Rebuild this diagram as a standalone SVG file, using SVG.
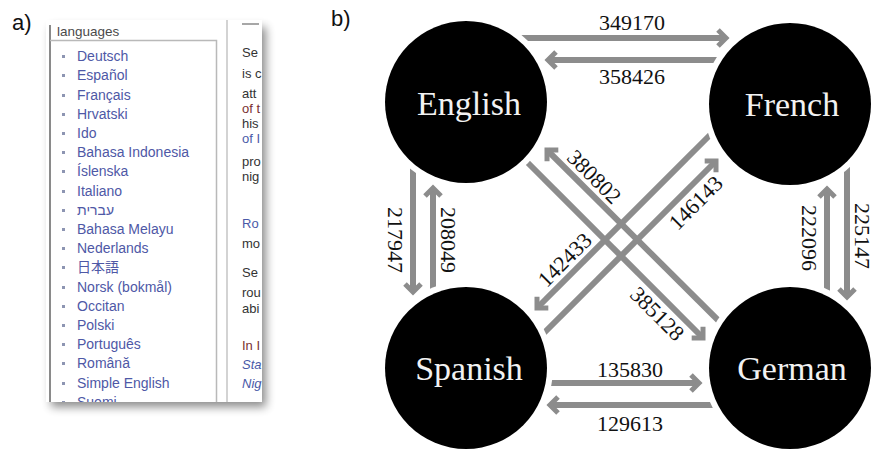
<svg xmlns="http://www.w3.org/2000/svg" width="878" height="451" viewBox="0 0 878 451">
  <defs>
    <style>
      .tag { font-family: "Liberation Sans", Arial, sans-serif; font-size: 22px; fill: #111; }
      .li { font-family: "Liberation Sans", Arial, "Noto Sans CJK JP", sans-serif; font-size: 14px; fill: #4e58a6; }
      .bul { fill: #8d95b2; }
      .body { font-family: "Liberation Sans", Arial, sans-serif; font-size: 13px; fill: #333; }
      .red { fill: #7a3030; }
      .blue { fill: #4a5aa8; }
      .it { font-style: italic; }
      .frame { stroke: #b9b9b9; stroke-width: 1.5; fill: none; }
      .wire { stroke: #8c8c8c; stroke-width: 6; fill: none; marker-end: url(#ah); }
      .node .halo { fill: #fff; }
      .node .disc { fill: #000; }
      .node text { font-family: "Liberation Serif", "Times New Roman", serif; font-size: 34px; fill: #f2f2f2; text-anchor: middle; }
      .num { font-family: "Liberation Serif", "Times New Roman", serif; font-size: 22px; fill: #111; text-anchor: middle; }
    </style>
    <marker id="ah" viewBox="-14 -12 20 24" refX="0" refY="0" markerWidth="20" markerHeight="24" markerUnits="userSpaceOnUse" orient="auto" overflow="visible">
      <path d="M-8,-8 L0,0 L-8,8" fill="none" stroke="#8c8c8c" stroke-width="5"/>
    </marker>
    <filter id="soft" x="-20%" y="-20%" width="140%" height="140%">
      <feGaussianBlur stdDeviation="5"/>
    </filter>
    <clipPath id="sheet">
      <rect x="46" y="20" width="216" height="382"/>
    </clipPath>
  </defs>

  <rect width="878" height="451" fill="#fff"/>

  <!-- panel labels -->
  <text class="tag" x="12" y="30">a)</text>
  <text class="tag" x="331" y="26">b)</text>

  <!-- a) language sidebar -->
  <g id="sidebar">
    <rect x="51" y="27" width="215" height="380" fill="#000" opacity="0.45" filter="url(#soft)"/>
    <rect x="46" y="20" width="216" height="382" fill="#fff"/>
    <g clip-path="url(#sheet)">
      <line x1="50" y1="25" x2="50" y2="402" stroke="#8a8a8a" stroke-width="2"/>
      <text x="57" y="36" font-family="Liberation Sans, Arial, sans-serif" font-size="13.5" fill="#4a4a4a">languages</text>
      <path class="frame" d="M50,40.5 H216.5 V402"/>
      <line x1="227" y1="20" x2="227" y2="402" stroke="#c4c4c4" stroke-width="1.5"/>
      <line x1="242" y1="24" x2="259" y2="24" stroke="#8a8a8a" stroke-width="1.5"/>

      <g id="lang-list">
        <rect class="bul" x="62" y="55" width="3" height="3"/><text class="li" x="77" y="61">Deutsch</text>
        <rect class="bul" x="62" y="74" width="3" height="3"/><text class="li" x="77" y="80">Español</text>
        <rect class="bul" x="62" y="94" width="3" height="3"/><text class="li" x="77" y="100">Français</text>
        <rect class="bul" x="62" y="113" width="3" height="3"/><text class="li" x="77" y="119">Hrvatski</text>
        <rect class="bul" x="62" y="132" width="3" height="3"/><text class="li" x="77" y="138">Ido</text>
        <rect class="bul" x="62" y="151" width="3" height="3"/><text class="li" x="77" y="157">Bahasa Indonesia</text>
        <rect class="bul" x="62" y="170" width="3" height="3"/><text class="li" x="77" y="176">Íslenska</text>
        <rect class="bul" x="62" y="190" width="3" height="3"/><text class="li" x="77" y="196">Italiano</text>
        <rect class="bul" x="62" y="209" width="3" height="3"/><text class="li" x="77" y="215">עברית</text>
        <rect class="bul" x="62" y="228" width="3" height="3"/><text class="li" x="77" y="234">Bahasa Melayu</text>
        <rect class="bul" x="62" y="247" width="3" height="3"/><text class="li" x="77" y="253">Nederlands</text>
        <rect class="bul" x="62" y="266" width="3" height="3"/><text class="li" x="77" y="272">日本語</text>
        <rect class="bul" x="62" y="286" width="3" height="3"/><text class="li" x="77" y="292">Norsk (bokmål)</text>
        <rect class="bul" x="62" y="305" width="3" height="3"/><text class="li" x="77" y="311">Occitan</text>
        <rect class="bul" x="62" y="324" width="3" height="3"/><text class="li" x="77" y="330">Polski</text>
        <rect class="bul" x="62" y="343" width="3" height="3"/><text class="li" x="77" y="349">Português</text>
        <rect class="bul" x="62" y="362" width="3" height="3"/><text class="li" x="77" y="368">Română</text>
        <rect class="bul" x="62" y="382" width="3" height="3"/><text class="li" x="77" y="388">Simple English</text>
        <rect class="bul" x="62" y="401" width="3" height="3"/><text class="li" x="77" y="407">Suomi</text>
      </g>

      <g id="article-column">
        <text class="body" x="242" y="57">Se</text>
        <text class="body" x="242" y="78">is c</text>
        <text class="body" x="242" y="98">att</text>
        <text class="body red" x="242" y="113">of t</text>
        <text class="body" x="242" y="128">his</text>
        <text class="body blue" x="242" y="143">of I</text>
        <text class="body" x="242" y="166">pro</text>
        <text class="body" x="242" y="181">nig</text>
        <text class="body blue" x="242" y="228">Ro</text>
        <text class="body" x="242" y="248">mo</text>
        <text class="body" x="242" y="277">Se</text>
        <text class="body" x="242" y="297">rou</text>
        <text class="body" x="242" y="313">abi</text>
        <text class="body red" x="242" y="350">In I</text>
        <text class="body blue it" x="242" y="369">Sta</text>
        <text class="body blue it" x="242" y="388">Nig</text>
      </g>
    </g>
  </g>

  <!-- b) link counts between language editions -->
  <g id="connectors">
    <!-- English / French -->
    <line class="wire" x1="500" y1="38" x2="726" y2="38"/>
    <line class="wire" x1="760" y1="60" x2="548" y2="60"/>
    <text class="num" x="632" y="30">349170</text>
    <text class="num" x="632" y="84">358426</text>

    <!-- Spanish / German -->
    <line class="wire" x1="500" y1="383" x2="699" y2="383"/>
    <line class="wire" x1="760" y1="405" x2="550" y2="405"/>
    <text class="num" x="630" y="377">135830</text>
    <text class="num" x="630" y="431">129613</text>

    <!-- English / Spanish -->
    <line class="wire" x1="413" y1="150" x2="413" y2="292"/>
    <line class="wire" x1="433" y1="320" x2="433" y2="188"/>
    <text class="num" transform="translate(388,240) rotate(90)">217947</text>
    <text class="num" transform="translate(441,240) rotate(90)">208049</text>

    <!-- French / German -->
    <line class="wire" x1="827" y1="320" x2="827" y2="189"/>
    <line class="wire" x1="847" y1="150" x2="847" y2="297"/>
    <text class="num" transform="translate(802,238) rotate(90)">222096</text>
    <text class="num" transform="translate(855,236) rotate(90)">225147</text>

    <!-- English / German -->
    <line class="wire" x1="740" y1="342" x2="547" y2="150"/>
    <line class="wire" x1="520" y1="155" x2="703" y2="338"/>
    <text class="num" transform="translate(589,182) rotate(45)">380802</text>
    <text class="num" transform="translate(652,319) rotate(45)">385128</text>

    <!-- Spanish / French -->
    <line class="wire" x1="530" y1="347" x2="716" y2="161"/>
    <line class="wire" x1="730" y1="115" x2="537" y2="308"/>
    <text class="num" transform="translate(701,208) rotate(-45)">146143</text>
    <text class="num" transform="translate(570,265) rotate(-45)">142433</text>
  </g>

  <!-- each node: white ring that trims the arrow tails, then the black disc -->
  <g id="node-english" class="node">
    <circle class="halo" cx="466" cy="102" r="87"/>
    <circle class="disc" cx="466" cy="102" r="81"/>
    <text x="469" y="115">English</text>
  </g>
  <g id="node-french" class="node">
    <circle class="halo" cx="790" cy="104" r="87"/>
    <circle class="disc" cx="790" cy="104" r="81"/>
    <text x="792" y="116">French</text>
  </g>
  <g id="node-spanish" class="node">
    <circle class="halo" cx="466" cy="368" r="87"/>
    <circle class="disc" cx="466" cy="368" r="81"/>
    <text x="469" y="380">Spanish</text>
  </g>
  <g id="node-german" class="node">
    <circle class="halo" cx="790" cy="368" r="87"/>
    <circle class="disc" cx="790" cy="368" r="81"/>
    <text x="792" y="380">German</text>
  </g>
</svg>
